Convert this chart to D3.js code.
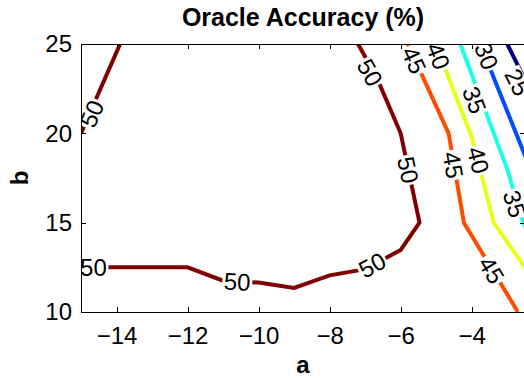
<!DOCTYPE html>
<html>
<head>
<meta charset="utf-8">
<script src="https://cdn.jsdelivr.net/npm/d3@7"></script>
<style>
  body { margin: 0; background: #fff; }
  svg { display: block; font-family: "Liberation Sans", Arial, Helvetica, sans-serif; }
  .axis path, .axis line { stroke: #000; stroke-width: 1; shape-rendering: crispEdges; }
  .axis text { fill: #000; font-size: 24px; }
</style>
</head>
<body>
<div class="contour"></div>
<script>
// contour levels and their polylines, in (a, b) data units
const levels = [25, 30, 35, 40, 45, 50];
const levelColors = ["#000080", "#004dff", "#1affe6", "#e6ff1a", "#ff4d00", "#800000"];

const line50a = [[-15, 20], [-13.9, 25]];
const line50b = [[-15, 12.5], [-12, 12.5], [-11, 11.75], [-10, 11.65], [-9, 11.35], [-8, 12.05],
                 [-7, 12.4], [-6, 13.47], [-5.47, 15], [-6, 20], [-6.67, 23.1], [-7.2, 25]];
const line45 = [[-5.8, 25], [-4.65, 20], [-4.22, 15], [-2.7, 10]];
const line40 = [[-5.02, 25], [-4.0, 19.8], [-3.38, 15], [-2.5, 12.5], [-2.2, 11.6]];
const line35 = [[-4.32, 25], [-3.0, 18], [-2.58, 15.2], [-2.2, 13.3]];
const line30 = [[-3.76, 25], [-2.53, 18.9], [-2.3, 17.8]];
const line25 = [[-3.0, 25], [-2.6, 23.4], [-2.3, 22.2]];

const contourLines = [
  {level: 50, points: line50a},
  {level: 50, points: line50b},
  {level: 45, points: line45},
  {level: 40, points: line40},
  {level: 35, points: line35},
  {level: 30, points: line30},
  {level: 25, points: line25}
];

// inline contour labels: level, a, b
const labelLevels = [50, 50, 50, 50, 50, 50, 45, 45, 45, 40, 40, 35, 35, 30, 25];
const labelA = [-14.7, -14.65, -10.6, -6.8, -5.79, -6.86, -5.62, -4.52, -3.44, -4.94, -3.81, -3.92, -2.79, -3.58, -2.71];
const labelB = [21.1, 12.5, 11.7, 12.63, 17.95, 23.4, 24.1, 18.23, 12.35, 24.33, 18.5, 21.87, 16.05, 24.33, 22.87];

const xTicks = [-14, -12, -10, -8, -6, -4];
const yTicks = [10, 15, 20, 25];

const w = 524, h = 381;
const margin = {top: 44, left: 81, right: -1, bottom: 69};
const width = w - margin.left - margin.right;
const height = h - margin.top - margin.bottom;

const x = d3.scaleLinear().domain([-15, -2.5]).range([0, width]);
const y = d3.scaleLinear().domain([10, 25]).range([height, 0]);
const color = d3.scaleOrdinal().domain(levels).range(levelColors);

const svg = d3.select(".contour").append("svg")
  .attr("width", w)
  .attr("height", h);

const defs = svg.append("defs");
defs.append("clipPath").attr("id", "plotClip")
  .append("rect").attr("width", width).attr("height", height);

const chart = svg.append("g")
  .attr("transform", "translate(" + margin.left + "," + margin.top + ")");

// work out label rotation from the nearest segment of its level
const labels = labelLevels.map(function(lv, i) {
  const px = x(labelA[i]), py = y(labelB[i]);
  let best = Infinity, angle = 0;
  contourLines.filter(c => c.level === lv).forEach(function(c) {
    for (let k = 0; k < c.points.length - 1; k++) {
      const x0 = x(c.points[k][0]), y0 = y(c.points[k][1]);
      const x1 = x(c.points[k + 1][0]), y1 = y(c.points[k + 1][1]);
      const dx = x1 - x0, dy = y1 - y0;
      let t = ((px - x0) * dx + (py - y0) * dy) / (dx * dx + dy * dy);
      t = Math.max(0, Math.min(1, t));
      const d = Math.hypot(px - (x0 + t * dx), py - (y0 + t * dy));
      if (d < best) { best = d; angle = Math.atan2(dy, dx) * 180 / Math.PI; }
    }
  });
  if (angle > 90) angle -= 180;
  if (angle < -90) angle += 180;
  return {level: lv, px: px, py: py, angle: angle};
});

// mask cuts the lines where labels sit
const mask = defs.append("mask").attr("id", "labelGap")
  .attr("maskUnits", "userSpaceOnUse")
  .attr("x", -margin.left).attr("y", -margin.top).attr("width", w).attr("height", h);
mask.append("rect")
  .attr("x", -margin.left).attr("y", -margin.top).attr("width", w).attr("height", h)
  .attr("fill", "#fff");
mask.selectAll(".gap")
  .data(labels)
  .enter()
  .append("rect")
  .attr("x", -15).attr("y", -9).attr("width", 30).attr("height", 18)
  .attr("fill", "#000")
  .attr("transform", d => "translate(" + d.px + "," + d.py + ") rotate(" + d.angle + ")");

const plotArea = chart.append("g").attr("clip-path", "url(#plotClip)");

const lineGen = d3.line().x(d => x(d[0])).y(d => y(d[1]));

plotArea.append("g")
  .attr("mask", "url(#labelGap)")
  .selectAll(".contour-line")
  .data(contourLines)
  .enter()
  .append("path")
  .attr("d", d => lineGen(d.points))
  .attr("fill", "none")
  .attr("stroke", d => color(d.level))
  .attr("stroke-width", 4);

plotArea.selectAll(".contour-label")
  .data(labels)
  .enter()
  .append("text")
  .attr("transform", d => "translate(" + d.px + "," + d.py + ") rotate(" + d.angle + ")")
  .attr("text-anchor", "middle")
  .attr("dy", "0.36em")
  .style("font-size", "24px")
  .text(d => d.level);

// axes with inward ticks on all four sides
chart.append("g")
  .classed("axis", true)
  .attr("transform", "translate(0," + height + ")")
  .call(d3.axisBottom(x).tickValues(xTicks).tickSizeInner(-5).tickSizeOuter(0).tickPadding(15));

chart.append("g")
  .classed("axis", true)
  .call(d3.axisTop(x).tickValues(xTicks).tickSizeInner(-5).tickSizeOuter(0).tickFormat(""));

chart.append("g")
  .classed("axis", true)
  .call(d3.axisLeft(y).tickValues(yTicks).tickSizeInner(-5).tickSizeOuter(0).tickPadding(9));

chart.append("g")
  .classed("axis", true)
  .attr("transform", "translate(" + width + ",0)")
  .call(d3.axisRight(y).tickValues(yTicks).tickSizeInner(-5).tickSizeOuter(0).tickFormat(""));

// titles
svg.append("text")
  .attr("x", margin.left + width / 2)
  .attr("y", 26)
  .attr("text-anchor", "middle")
  .style("font-size", "25px")
  .style("font-weight", "bold")
  .text("Oracle Accuracy (%)");

svg.append("text")
  .attr("x", margin.left + width / 2)
  .attr("y", 373)
  .attr("text-anchor", "middle")
  .style("font-size", "24px")
  .style("font-weight", "bold")
  .text("a");

svg.append("text")
  .attr("transform", "translate(28," + (margin.top + height / 2) + ") rotate(-90)")
  .attr("text-anchor", "middle")
  .style("font-size", "24px")
  .style("font-weight", "bold")
  .text("b");
</script>
</body>
</html>
